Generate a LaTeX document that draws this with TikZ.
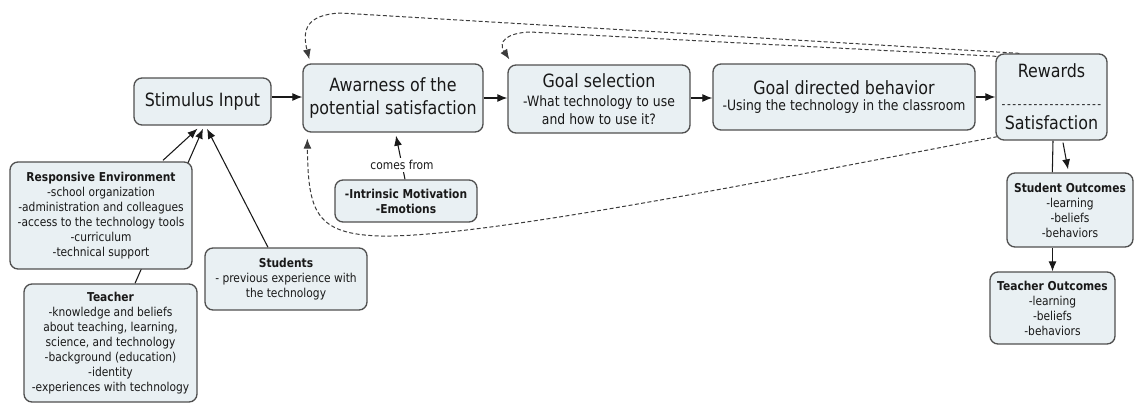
\documentclass[tikz,border=0pt]{standalone}
\usepackage{fontspec}
\setmainfont{DejaVu Sans}[FakeStretch=0.87]
\usetikzlibrary{arrows.meta,calc,backgrounds}
\definecolor{boxfill}{RGB}{233,240,243}
\definecolor{boxline}{RGB}{80,80,80}
\definecolor{ink}{RGB}{25,25,25}
\newcommand\bigf{\fontsize{13.7}{17}\selectfont}
\newcommand\medf{\fontsize{10.7}{13.5}\selectfont}
\newcommand\smallf{\fontsize{9.2}{11.25}\selectfont}
\newcommand\hy{-\kern1.1pt}
% concept box given by its corners (in px units)
\newcommand\conbox[7][]{%
  \node[cbox,#1,minimum width={(#5-#3)*0.75pt},minimum height={(#6-#4)*0.75pt}]
    (#2) at ({(#3+#5)/2},{(#4+#6)/2}) {#7};}
\tikzset{
  cbox/.style={draw=boxline, fill=boxfill, rounded corners=6pt, line width=1pt,
    align=center, inner sep=0pt, text=ink},
  arr/.style={-{Latex[length=7.5pt,width=6pt]}, line width=0.8pt, draw=ink},
  link/.style={line width=0.8pt, draw=ink},
  dlink/.style={dash pattern=on 3pt off 1.8pt, line width=0.75pt, draw=ink!85},
}
\begin{document}
\begin{tikzpicture}[x=0.75pt,y=-0.75pt]
\useasboundingbox (0,0) rectangle (1138,404);

% main chain
\conbox[font=\bigf]{si}{134}{78}{271}{125}{Stimulus Input}
\conbox[font=\bigf]{aw}{303}{64}{483}{132}{Awarness of the\\potential satisfaction}
\conbox[font=\medf]{gs}{508}{65}{690}{133}{{\bigf Goal selection}\\[1pt]-What technology to use\\and how to use it?}
\conbox[font=\medf]{gd}{713}{64}{975}{130}{{\bigf Goal directed behavior}\\[-1pt]-Using the technology in the classroom}
\conbox[font=\bigf]{rew}{996}{54}{1107}{140}{Rewards\\[6pt]{\smallf\hy\hy\hy\hy\hy\hy\hy\hy\hy\hy\hy\hy\hy\hy\hy\hy\hy\hy-}\\[-1pt]Satisfaction}

% influences on the stimulus
\conbox[font=\smallf]{re}{10}{162}{192}{269}{\textbf{Responsive Environment}\\-school organization\\-administration and colleagues\\-access to the technology tools\\-curriculum\\-technical support}
\conbox[font=\smallf]{te}{24}{284}{197}{402}{\textbf{Teacher}\\-knowledge and beliefs\\about teaching, learning,\\science, and technology\\-background (education)\\-identity\\-experiences with technology}
\conbox[font=\smallf]{st}{205}{248}{367}{310}{\textbf{Students}\\- previous experience with\\the technology}
\conbox[font=\smallf]{im}{335}{180}{477}{222}{\textbf{-Intrinsic Motivation}\\\textbf{-Emotions}}

% outcomes
\conbox[font=\smallf]{so}{1007}{173}{1133}{247}{\textbf{Student Outcomes}\\-learning\\-beliefs\\-behaviors}
\conbox[font=\smallf]{to}{990}{272}{1115}{344}{\textbf{Teacher Outcomes}\\-learning\\-beliefs\\-behaviors}

\begin{scope}[on background layer]
  % chain arrows
  \coordinate (row) at (0,97);
  \draw[arr] (si.east |- row) -- (aw.west |- row);
  \draw[arr] ($(aw.east |- row)+(0,1)$) -- ($(gs.west |- row)+(0,1)$);
  \draw[arr] ($(gs.east |- row)+(0,1)$) -- ($(gd.west |- row)+(0,1)$);
  \draw[arr] (gd.east |- row) -- (rew.west |- row);

  % into the stimulus
  \draw[arr] ($(re.north)+(62,-1)$) -- ($(si.south)+(-5,3)$);
  \draw[arr] ($(te.north)+(24.5,0)$) -- ($(si.south)+(0.5,3)$);
  \draw[arr] ($(st.north)+(-18,0)$) -- ($(si.south)+(4.5,3)$);

  % intrinsic motivation
  \draw[arr] ($(im.north)+(-1,0)$) -- node[pos=0.33, fill=white, inner sep=1.5pt, font=\smallf, text=ink] {comes from} ($(aw.south)+(3,3)$);

  % rewards to outcomes
  \draw[link] ($(rew.south)+(1.5,0)$) -- ($(so.north west)+(46,0)$);
  \draw[arr] ($(rew.south)+(11.5,2)$) -- ($(so.north)+(-2,-3)$);
  \draw[arr] (to.north |- so.south) -- (to.north);

  % feedback loops
  \draw[dlink,-{Latex[length=7.5pt,width=6pt]}] ($(rew.north west)+(24,0)$) -- (340,13)
     .. controls (306,15) and (302,30) .. ($(aw.north west)+(7,-4)$);
  \draw[dlink,-{Latex[length=7.5pt,width=6pt]}] ($(rew.north west)+(1,3)$) -- (530,32)
     .. controls (506,33) and (498,42) .. ($(gs.north west)+(2,-5)$);
  \draw[dlink,-{Latex[length=7.5pt,width=6pt]}] ($(rew.south west)+(2,-4)$)
     .. controls (760,182) and (480,238) .. (380,236)
     .. controls (316,234) and (308,212) .. ($(aw.south west)+(5,6)$);
\end{scope}
\end{tikzpicture}
\end{document}
